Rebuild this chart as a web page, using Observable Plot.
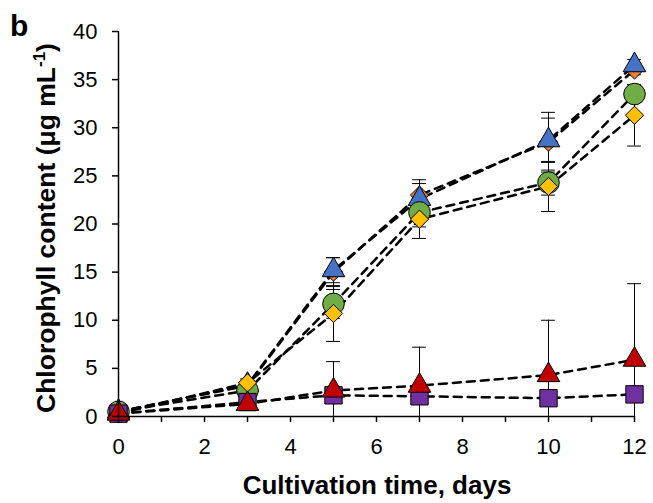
<!DOCTYPE html>
<html>
<head>
<meta charset="utf-8">
<script src="https://cdn.jsdelivr.net/npm/d3@7"></script>
<script src="https://cdn.jsdelivr.net/npm/@observablehq/plot@0.6"></script>
<style>
  body { margin: 0; background: #fff; }
  #chart svg { display: block; }
</style>
</head>
<body>
<div id="chart"></div>
<script>
// ---- data ----
const days = [0, 3, 5, 7, 10, 12];
const xTicks = [0, 1, 2, 3, 4, 5, 6, 7, 8, 9, 10, 11, 12];
const xTickLabels = ["0", "", "2", "", "4", "", "6", "", "8", "", "10", "", "12"];
const yTicks = [0, 5, 10, 15, 20, 25, 30, 35, 40];

const orangeVals = [0.5, 3.2, 15.0, 23.0, 28.5, 36.0];
const orangeErr  = [0.1, 0.3, 1.5, 1.6, 3.1, 0.5];
const blueVals   = [0.5, 3.3, 15.2, 22.6, 28.7, 36.5];
const blueErr    = [0.1, 0.3, 1.3, 1.6, 2.3, 0.6];
const greenVals  = [0.5, 2.7, 11.7, 21.2, 24.3, 33.5];
const greenErr   = [0.1, 0.3, 1.5, 1.5, 1.3, 0.8];
const yellowVals = [0.3, 3.5, 10.7, 20.5, 23.9, 31.3];
const yellowErr  = [0.1, 0.4, 2.9, 2.0, 2.6, 3.2];
const purpleVals = [0.3, 1.5, 2.2, 2.1, 1.9, 2.3];
const purpleErr  = [0.1, 0.2, 0.3, 0.3, 0.3, 0.3];
const redVals    = [0.3, 1.3, 2.7, 3.2, 4.3, 5.9];
const redErr     = [0.1, 0.3, 3.0, 4.0, 5.7, 7.9];

const seriesDefs = [
  {name: "orange", vals: orangeVals, err: orangeErr, fill: "#ED7D31", symbol: "diamond2", r: 8.2},
  {name: "blue",   vals: blueVals,   err: blueErr,   fill: "#4472C4", symbol: "triangle", r: 8.4},
  {name: "green",  vals: greenVals,  err: greenErr,  fill: "#70AD47", symbol: "circle",   r: 10.8},
  {name: "yellow", vals: yellowVals, err: yellowErr, fill: "#FFC000", symbol: "diamond2", r: 8.2},
  {name: "purple", vals: purpleVals, err: purpleErr, fill: "#7030A0", symbol: "square",   r: 9.8},
  {name: "red",    vals: redVals,    err: redErr,    fill: "#C00000", symbol: "triangle", r: 8.4}
];

const table = seriesDefs.flatMap(s => days.map((d, i) => ({
  series: s.name, day: d, value: s.vals[i], lo: Math.max(0, s.vals[i] - s.err[i]), hi: s.vals[i] + s.err[i]
})));

const capHalf = 0.16; // cap half-width in days

const marks = [
  Plot.line(table, {x: "day", y: "value", z: "series", stroke: "black", strokeWidth: 2.5, strokeDasharray: "8,6"}),
  Plot.ruleX(table, {x: "day", y1: "lo", y2: "hi", stroke: "black", strokeWidth: 1}),
  Plot.ruleY(table, {y: "hi", x1: d => d.day - capHalf, x2: d => d.day + capHalf, stroke: "black", strokeWidth: 1}),
  Plot.ruleY(table.filter(d => d.lo > 0), {y: "lo", x1: d => d.day - capHalf, x2: d => d.day + capHalf, stroke: "black", strokeWidth: 1}),
];
for (const s of seriesDefs) {
  marks.push(Plot.dot(table.filter(d => d.series === s.name), {
    x: "day", y: "value", symbol: () => s.symbol, r: s.r, fill: s.fill, stroke: "black", strokeWidth: 1
  }));
}
marks.push(Plot.ruleX([0], {stroke: "black", strokeWidth: 1.5}));
marks.push(Plot.ruleY([0], {stroke: "black", strokeWidth: 1.5}));
marks.push(Plot.axisX({ticks: xTicks, tickFormat: (d, i) => xTickLabels[i], tickSize: 6, tickPadding: 16, label: null, fontSize: 22, strokeWidth: 1.5}));
marks.push(Plot.axisY({ticks: yTicks, tickSize: 6, tickPadding: 15, label: null, fontSize: 22, strokeWidth: 1.5}));

const plot = Plot.plot({
  width: 653,
  height: 503,
  marginLeft: 118,
  marginRight: 19,
  marginTop: 31,
  marginBottom: 87,
  style: {fontFamily: "'Liberation Sans', Arial, sans-serif", fontSize: "22px", color: "black", background: "white"},
  x: {domain: [0, 12]},
  y: {domain: [0, 40]},
  marks
});
document.getElementById("chart").appendChild(plot);

const svg = d3.select(plot);
const ff = "'Liberation Sans', Arial, sans-serif";
svg.append("text").attr("x", 10).attr("y", 36).attr("text-anchor", "start").attr("font-family", ff)
  .attr("font-size", 30).attr("font-weight", "bold").text("b");
svg.append("text").attr("x", 377).attr("y", 494).attr("text-anchor", "middle").attr("font-family", ff)
  .attr("font-size", 26).attr("font-weight", "bold").text("Cultivation time, days");
const yl = svg.append("text").attr("transform", "translate(55,228) rotate(-90)").attr("text-anchor", "middle")
  .attr("font-family", ff).attr("font-size", 26.5).attr("font-weight", "bold");
yl.append("tspan").text("Chlorophyll content (μg mL");
yl.append("tspan").attr("font-size", 17).attr("dy", -10).text("-1");
yl.append("tspan").attr("dy", 10).text(")");
</script>
</body>
</html>
